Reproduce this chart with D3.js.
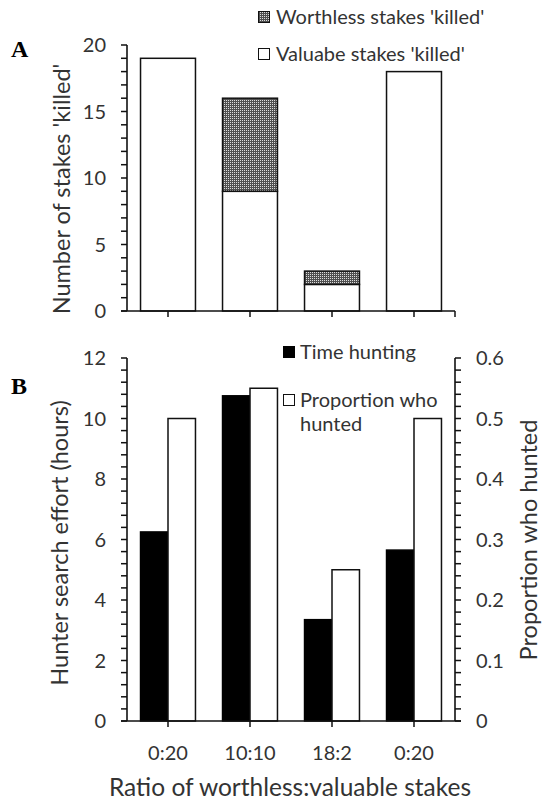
<!DOCTYPE html>
<html>
<head>
<meta charset="utf-8">
<script src="https://cdn.jsdelivr.net/npm/d3@7"></script>
<style>
  body { margin: 0; background: #fff; }
  svg { display: block; }
  text { font-family: Lato, "Open Sans", sans-serif; fill: #333; }
</style>
</head>
<body>
<svg id="chart" width="545" height="805"></svg>
<script>
// ratios of worthless:valuable stakes
var ratios = ["0:20", "10:10", "18:2", "0:20"];

// panel A: number of stakes 'killed'
var valuableKilled = [19, 9, 2, 18];
var worthlessKilled = [0, 7, 1, 0];

// panel B
var timeHunting = [6.25, 10.75, 3.35, 5.65];   // hours
var propHunted = [0.5, 0.55, 0.25, 0.5];

var countTicks = [0, 5, 10, 15, 20];
var hourTicks = [0, 2, 4, 6, 8, 10, 12];
var propTicks = [0, 0.1, 0.2, 0.3, 0.4, 0.5, 0.6];

var svg = d3.select("#chart");
var x0 = 127, x1 = 455;
var ink = "#111";

// fine dotted fill for the worthless stakes
var pat = svg.append("defs").append("pattern")
  .attr("id", "dots")
  .attr("width", 2).attr("height", 2)
  .attr("patternUnits", "userSpaceOnUse");
pat.append("rect").attr("width", 2).attr("height", 2).attr("fill", "#505050");
pat.append("rect").attr("width", 1).attr("height", 1).attr("fill", "#ddd");

var x = d3.scaleBand()
  .domain(d3.range(ratios.length))
  .range([x0, x1])
  .paddingInner(0.33)
  .paddingOuter(0.165);

function mid(i) { return x(i) + x.bandwidth() / 2; }

function vline(g, xx, ya, yb) {
  g.append("line")
    .attr("x1", xx).attr("x2", xx).attr("y1", ya).attr("y2", yb)
    .attr("stroke", ink).attr("stroke-width", 1.6);
}
function hline(g, xa, xb, yy) {
  g.append("line")
    .attr("x1", xa).attr("x2", xb).attr("y1", yy).attr("y2", yy)
    .attr("stroke", ink).attr("stroke-width", 1.6);
}

// ---------- panel A ----------
var yA = d3.scaleLinear().domain([0, 20]).range([311, 45]);
var gA = svg.append("g");

gA.selectAll(".val")
  .data(valuableKilled)
  .enter()
  .append("rect")
  .attr("x", function(d, i) { return x(i); })
  .attr("width", x.bandwidth())
  .attr("y", function(d) { return yA(d); })
  .attr("height", function(d) { return yA(0) - yA(d); })
  .attr("fill", "#fff")
  .attr("stroke", ink)
  .attr("stroke-width", 1.5);

gA.selectAll(".worth")
  .data(worthlessKilled)
  .enter()
  .append("rect")
  .attr("display", function(d) { return d > 0 ? null : "none"; })
  .attr("x", function(d, i) { return x(i); })
  .attr("width", x.bandwidth())
  .attr("y", function(d, i) { return yA(valuableKilled[i] + d); })
  .attr("height", function(d) { return yA(0) - yA(d); })
  .attr("fill", "url(#dots)")
  .attr("stroke", ink)
  .attr("stroke-width", 1.5);

// minor ticks every 1, labels every 5
gA.selectAll(".ta")
  .data(d3.range(0, 21, 1))
  .enter()
  .append("line")
  .attr("x1", x0 - 6).attr("x2", x0)
  .attr("y1", function(d) { return yA(d); })
  .attr("y2", function(d) { return yA(d); })
  .attr("stroke", ink).attr("stroke-width", 1.5);
gA.selectAll(".la")
  .data(countTicks)
  .enter()
  .append("text")
  .attr("class", "tick-lab")
  .attr("x", x0 - 21)
  .attr("y", function(d) { return yA(d); })
  .attr("dy", "0.35em")
  .attr("text-anchor", "end")
  .text(function(d) { return d; });
vline(gA, x0, yA(20), yA(0));
hline(gA, x0 - 6, x1, yA(0));
gA.selectAll(".xt")
  .data(d3.range(ratios.length).map(mid).concat([x1]))
  .enter()
  .append("line")
  .attr("x1", function(d) { return d; }).attr("x2", function(d) { return d; })
  .attr("y1", yA(0)).attr("y2", yA(0) + 6)
  .attr("stroke", ink).attr("stroke-width", 1.5);

svg.append("text")
  .attr("class", "title")
  .attr("transform", "translate(70,189) rotate(-90)")
  .attr("text-anchor", "middle")
  .text("Number of stakes 'killed'");

// legend A
var legA = [["Worthless stakes 'killed'", "url(#dots)", 17], ["Valuabe stakes 'killed'", "#fff", 54]];
legA.forEach(function(l) {
  svg.append("rect")
    .attr("x", 258.5).attr("y", l[2] - 5.5).attr("width", 11).attr("height", 11)
    .attr("fill", l[1]).attr("stroke", ink).attr("stroke-width", 1);
  svg.append("text")
    .attr("class", "leg")
    .attr("x", 276).attr("y", l[2])
    .attr("dy", "0.35em")
    .text(l[0]);
});

// ---------- panel B ----------
var yB = d3.scaleLinear().domain([0, 12]).range([721, 358]);
var yP = d3.scaleLinear().domain([0, 0.6]).range([721, 358]);
var half = x.bandwidth() / 2;
var gB = svg.append("g");

gB.selectAll(".hunt")
  .data(timeHunting)
  .enter()
  .append("rect")
  .attr("x", function(d, i) { return x(i); })
  .attr("width", half)
  .attr("y", function(d) { return yB(d); })
  .attr("height", function(d) { return yB(0) - yB(d); })
  .attr("fill", "#000")
  .attr("stroke", "#000")
  .attr("stroke-width", 1.5);

gB.selectAll(".prop")
  .data(propHunted)
  .enter()
  .append("rect")
  .attr("x", function(d, i) { return x(i) + half; })
  .attr("width", half)
  .attr("y", function(d) { return yP(d); })
  .attr("height", function(d) { return yP(0) - yP(d); })
  .attr("fill", "#fff")
  .attr("stroke", ink)
  .attr("stroke-width", 1.5);

// left axis: minor every 0.4
gB.selectAll(".tb")
  .data(d3.range(0, 30.5, 1).map(function(k) { return k * 0.4; }))
  .enter()
  .append("line")
  .attr("x1", x0 - 6).attr("x2", x0)
  .attr("y1", function(d) { return yB(d); })
  .attr("y2", function(d) { return yB(d); })
  .attr("stroke", ink).attr("stroke-width", 1.5);
gB.selectAll(".lb")
  .data(hourTicks)
  .enter()
  .append("text")
  .attr("class", "tick-lab")
  .attr("x", x0 - 21)
  .attr("y", function(d) { return yB(d); })
  .attr("dy", "0.35em")
  .attr("text-anchor", "end")
  .text(function(d) { return d; });
vline(gB, x0, yB(12), yB(0));

// right axis: minor every 0.02
gB.selectAll(".tp")
  .data(d3.range(0, 30.5, 1).map(function(k) { return k * 0.02; }))
  .enter()
  .append("line")
  .attr("x1", x1).attr("x2", x1 + 6)
  .attr("y1", function(d) { return yP(d); })
  .attr("y2", function(d) { return yP(d); })
  .attr("stroke", ink).attr("stroke-width", 1.5);
gB.selectAll(".lp")
  .data(propTicks)
  .enter()
  .append("text")
  .attr("class", "tick-lab")
  .attr("x", x1 + 21)
  .attr("y", function(d) { return yP(d); })
  .attr("dy", "0.35em")
  .text(function(d) { return d === 0 ? "0" : d3.format(".1f")(d); });
vline(gB, x1, yP(0.6), yP(0));

hline(gB, x0 - 6, x1 + 6, yB(0));
gB.selectAll(".xt")
  .data(d3.range(ratios.length).map(mid))
  .enter()
  .append("line")
  .attr("x1", function(d) { return d; }).attr("x2", function(d) { return d; })
  .attr("y1", yB(0)).attr("y2", yB(0) + 6)
  .attr("stroke", ink).attr("stroke-width", 1.5);
gB.selectAll(".xl")
  .data(ratios)
  .enter()
  .append("text")
  .attr("class", "tick-lab")
  .attr("x", function(d, i) { return mid(i); })
  .attr("y", 760)
  .attr("text-anchor", "middle")
  .text(function(d) { return d; });

svg.append("text")
  .attr("class", "title")
  .attr("x", 290).attr("y", 796)
  .attr("text-anchor", "middle")
  .style("font-size", "24.5px")
  .text("Ratio of worthless:valuable stakes");
svg.append("text")
  .attr("class", "title")
  .attr("transform", "translate(68,543) rotate(-90)")
  .attr("text-anchor", "middle")
  .text("Hunter search effort (hours)");
svg.append("text")
  .attr("class", "title")
  .attr("transform", "translate(537,540) rotate(-90)")
  .attr("text-anchor", "middle")
  .text("Proportion who hunted");

// legend B
svg.append("rect")
  .attr("x", 283).attr("y", 346).attr("width", 12).attr("height", 12)
  .attr("fill", "#000");
svg.append("text").attr("class", "leg")
  .attr("x", 300).attr("y", 352).attr("dy", "0.35em")
  .text("Time hunting");
svg.append("rect")
  .attr("x", 283.5).attr("y", 394.5).attr("width", 11).attr("height", 11)
  .attr("fill", "#fff").attr("stroke", ink).attr("stroke-width", 1);
svg.append("text").attr("class", "leg")
  .attr("x", 300).attr("y", 400).attr("dy", "0.35em")
  .text("Proportion who");
svg.append("text").attr("class", "leg")
  .attr("x", 300).attr("y", 424).attr("dy", "0.35em")
  .text("hunted");

svg.selectAll(".tick-lab").style("font-size", "20px");
svg.selectAll(".title").filter(function() { return !this.style.fontSize; }).style("font-size", "23.5px");
svg.selectAll(".leg").style("font-size", "20px");

// panel letters
[["A", 57], ["B", 394]].forEach(function(p) {
  svg.append("text")
    .attr("x", 11).attr("y", p[1])
    .style("font-family", "'Liberation Serif', serif")
    .style("font-weight", "bold")
    .style("font-size", "24px")
    .style("fill", "#000")
    .text(p[0]);
});
</script>
</body>
</html>
